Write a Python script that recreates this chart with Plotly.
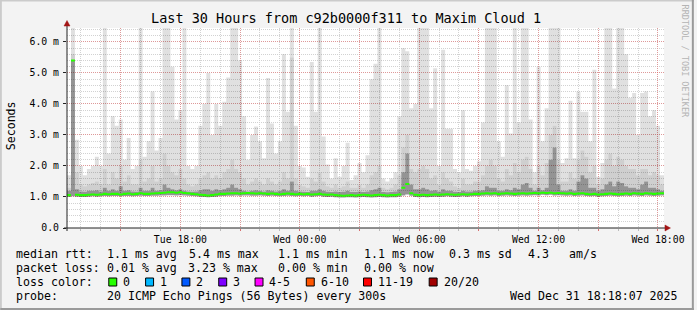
import pandas as pd
import plotly.graph_objects as go

# ---------------- data ----------------
# 150 bins of 12 minutes, Tue 12:18 -> Wed 18:18, values in milliseconds
smoke_max = [
    1.7, 6.6, 2.85, 2.0, 1.7, 1.9, 2.0, 2.3, 2.0, 6.6,
    2.4, 3.6, 3.3, 3.5, 2.2, 2.9, 1.9, 2.0, 6.6, 2.3,
    2.8, 4.4, 2.5, 2.9, 6.6, 6.6, 5.2, 3.5, 3.8, 6.6,
    2.0, 1.9, 2.0, 3.3, 4.0, 5.0, 3.0, 4.0, 3.3, 4.07,
    4.85, 6.6, 6.6, 5.4, 3.6, 2.2, 3.0, 3.27, 2.8, 2.25,
    4.84, 3.37, 2.4, 2.8, 5.6, 3.75, 6.6, 3.3, 2.0, 1.95,
    1.65, 5.35, 3.75, 6.6, 2.95, 2.05, 1.6, 2.25, 1.65, 2.0,
    2.75, 1.55, 1.7, 2.1, 1.8, 2.35, 4.8, 5.3, 6.6, 1.6,
    1.5, 1.6, 1.8, 3.6, 5.8, 5.7, 3.86, 4.0, 6.6, 6.6,
    6.6, 3.86, 5.15, 2.0, 5.75, 3.2, 3.2, 1.9, 1.8, 3.8,
    1.9, 1.85, 2.0, 2.15, 3.4, 6.6, 6.6, 6.6, 2.8, 2.3,
    4.6, 3.05, 6.6, 3.4, 6.6, 6.6, 3.5, 1.8, 5.2, 2.8,
    3.86, 6.6, 6.6, 6.6, 2.1, 2.25, 4.1, 2.25, 4.4, 3.75,
    3.75, 2.8, 5.1, 1.65, 2.1, 6.6, 6.6, 4.5, 6.6, 6.6,
    5.6, 4.2, 4.35, 3.0, 4.35, 4.4, 3.6, 3.8, 3.3, 1.7,
]
smoke_mid = [
    1.3, 5.6, 1.8, 1.4, 1.35, 1.4, 1.45, 1.5, 1.4, 1.9,
    1.4, 1.8, 1.6, 2.0, 1.5, 1.7, 1.4, 1.4, 2.2, 1.5,
    1.6, 2.0, 1.5, 1.6, 2.4, 2.0, 1.8, 1.7, 1.9, 1.6,
    1.4, 1.35, 1.4, 1.6, 1.7, 1.8, 1.6, 1.7, 1.6, 1.8,
    1.9, 2.2, 1.9, 1.8, 1.6, 1.4, 1.5, 1.6, 1.5, 1.4,
    1.6, 1.5, 1.4, 1.5, 1.8, 1.6, 5.5, 1.6, 1.4, 1.35,
    1.3, 1.6, 1.5, 1.8, 1.5, 1.35, 1.3, 1.4, 1.3, 1.35,
    1.5, 1.3, 1.3, 1.4, 1.3, 1.4, 1.7, 1.8, 2.0, 1.3,
    1.25, 1.3, 1.4, 1.7, 2.6, 3.0, 1.9, 1.8, 1.9, 2.0,
    1.9, 1.6, 1.7, 1.4, 1.8, 1.6, 1.5, 1.35, 1.3, 1.6,
    1.4, 1.4, 1.5, 1.5, 1.7, 2.0, 2.2, 2.0, 1.6, 1.5,
    1.9, 1.7, 2.1, 1.8, 2.2, 2.3, 1.9, 1.4, 2.0, 1.7,
    2.1, 3.0, 3.3, 2.2, 1.5, 1.5, 1.8, 1.6, 2.2, 2.5,
    2.3, 1.8, 2.0, 1.4, 1.6, 2.2, 2.4, 2.0, 2.3, 2.2,
    2.0, 1.9, 1.9, 1.7, 1.9, 1.9, 1.7, 1.8, 1.7, 1.4,
]
smoke_dark = [
    1.2, 5.4, 1.25, 1.18, 1.17, 1.2, 1.2, 1.22, 1.18, 1.3,
    1.2, 1.25, 1.2, 1.35, 1.2, 1.22, 1.18, 1.17, 1.3, 1.2,
    1.2, 1.3, 1.2, 1.22, 1.4, 1.3, 1.25, 1.22, 1.25, 1.2,
    1.18, 1.17, 1.18, 1.22, 1.25, 1.25, 1.2, 1.25, 1.22, 1.25,
    1.3, 1.4, 1.3, 1.25, 1.2, 1.18, 1.2, 1.22, 1.2, 1.18,
    1.22, 1.2, 1.18, 1.2, 1.25, 1.2, 1.5, 1.2, 1.18, 1.17,
    1.16, 1.2, 1.2, 1.25, 1.2, 1.17, 1.16, 1.18, 1.16, 1.17,
    1.2, 1.16, 1.16, 1.18, 1.16, 1.18, 1.22, 1.25, 1.3, 1.16,
    1.15, 1.16, 1.18, 1.25, 1.8, 2.4, 1.4, 1.25, 1.25, 1.3,
    1.25, 1.2, 1.22, 1.18, 1.25, 1.2, 1.2, 1.17, 1.16, 1.2,
    1.18, 1.18, 1.2, 1.2, 1.22, 1.35, 1.3, 1.3, 1.2, 1.2,
    1.25, 1.22, 1.3, 1.25, 1.4, 1.45, 1.3, 1.2, 1.3, 1.22,
    1.3, 2.2, 2.6, 1.4, 1.2, 1.2, 1.25, 1.2, 1.5, 1.7,
    1.6, 1.3, 1.3, 1.2, 1.25, 1.4, 1.5, 1.35, 1.5, 1.45,
    1.35, 1.3, 1.3, 1.25, 1.4, 1.5, 1.3, 1.3, 1.25, 1.2,
]
smoke_min = [
    1.0, 1.02, 1.01, 1.0, 1.0, 1.01, 1.02, 1.01, 1.02, 1.03,
    1.02, 1.03, 1.03, 1.02, 1.03, 1.03, 1.02, 1.03, 1.04, 1.03,
    1.03, 1.04, 1.04, 1.05, 1.05, 1.06, 1.06, 1.05, 1.06, 1.05,
    1.04, 1.03, 1.02, 1.01, 1.0, 0.99, 1.0, 1.01, 1.03, 1.03,
    1.04, 1.04, 1.05, 1.04, 1.05, 1.05, 1.04, 1.04, 1.05, 1.04,
    1.03, 1.04, 1.03, 1.02, 1.03, 1.04, 1.03, 1.02, 1.03, 1.02,
    1.03, 1.01, 1.02, 1.03, 1.01, 1.0, 1.01, 0.99, 0.98, 0.98,
    0.99, 0.99, 0.98, 0.99, 1.0, 0.99, 0.98, 0.99, 1.0, 0.99,
    0.98, 0.99, 0.99, 1.01, 1.05, 1.08, 1.04, 1.0, 0.99, 1.0,
    0.99, 1.0, 1.01, 1.0, 1.01, 1.02, 1.01, 1.0, 1.01, 1.02,
    1.01, 1.02, 1.03, 1.03, 1.04, 1.05, 1.04, 1.05, 1.03, 1.04,
    1.05, 1.04, 1.03, 1.04, 1.05, 1.04, 1.05, 1.06, 1.05, 1.07,
    1.06, 1.07, 1.05, 1.06, 1.05, 1.04, 1.05, 1.03, 1.04, 1.05,
    1.03, 1.02, 1.03, 1.01, 1.02, 1.03, 1.04, 1.03, 1.02, 1.03,
    1.04, 1.03, 1.05, 1.04, 1.03, 1.05, 1.04, 1.03, 1.04, 1.05,
]
median_rtt = [
    1.06, 5.4, 1.07, 1.06, 1.06, 1.07, 1.08, 1.07, 1.08, 1.1,
    1.09, 1.1, 1.1, 1.08, 1.1, 1.11, 1.09, 1.1, 1.12, 1.1,
    1.1, 1.11, 1.12, 1.13, 1.14, 1.15, 1.15, 1.14, 1.15, 1.13,
    1.12, 1.1, 1.09, 1.07, 1.06, 1.05, 1.06, 1.08, 1.1, 1.1,
    1.11, 1.12, 1.12, 1.11, 1.12, 1.13, 1.12, 1.11, 1.12, 1.11,
    1.1, 1.11, 1.1, 1.09, 1.1, 1.11, 1.1, 1.09, 1.1, 1.09,
    1.1, 1.08, 1.09, 1.1, 1.08, 1.07, 1.08, 1.06, 1.05, 1.04,
    1.05, 1.06, 1.05, 1.06, 1.07, 1.06, 1.05, 1.06, 1.07, 1.06,
    1.05, 1.06, 1.06, 1.08, 1.3, 1.42, 1.12, 1.07, 1.06, 1.07,
    1.06, 1.07, 1.08, 1.07, 1.08, 1.09, 1.08, 1.07, 1.08, 1.09,
    1.08, 1.09, 1.1, 1.1, 1.11, 1.12, 1.11, 1.12, 1.1, 1.11,
    1.12, 1.11, 1.1, 1.11, 1.12, 1.11, 1.12, 1.13, 1.12, 1.14,
    1.13, 1.14, 1.12, 1.13, 1.12, 1.11, 1.12, 1.1, 1.11, 1.12,
    1.1, 1.09, 1.1, 1.08, 1.09, 1.1, 1.11, 1.1, 1.09, 1.1,
    1.11, 1.1, 1.12, 1.11, 1.1, 1.12, 1.11, 1.1, 1.11, 1.12,
]

start_time = "2025-12-30 12:18:07"
end_time = "2025-12-31 18:18:07"
bin_minutes = 12

x_tickvals = ["2025-12-30 15:00", "2025-12-30 18:00", "2025-12-30 21:00",
              "2025-12-31 00:00", "2025-12-31 03:00", "2025-12-31 06:00",
              "2025-12-31 09:00", "2025-12-31 12:00", "2025-12-31 15:00",
              "2025-12-31 18:00"]
x_ticktext = ["", "Tue 18:00", "", "Wed 00:00", "", "Wed 06:00", "",
              "Wed 12:00", "", "Wed 18:00"]
y_tickvals = [0, 1, 2, 3, 4, 5, 6]
y_ticktext = ["0.0", "1.0 m", "2.0 m", "3.0 m", "4.0 m", "5.0 m", "6.0 m"]

stats_rtt = [("median rtt:", 16), ("1.1 ms avg", 107), ("5.4 ms max", 190),
             ("1.1 ms min", 279), ("1.1 ms now", 365), ("0.3 ms sd", 451),
             ("4.3", 530), ("am/s", 572)]
stats_loss = [("packet loss:", 16), ("0.01 % avg", 107), ("3.23 % max", 189),
              ("0.00 % min", 279), ("0.00 % now", 365)]
loss_labels = ["0", "1", "2", "3", "4-5", "6-10", "11-19", "20/20"]
loss_colors = ["#26ff00", "#00b8ff", "#0059ff", "#7e00ff", "#ff00ff",
               "#ff5500", "#ff0000", "#a10000"]
loss_swatch_x = [109, 146, 182.5, 219.5, 256, 307.5, 365, 431]
probe_text = "20 ICMP Echo Pings (56 Bytes) every 300s"
stamp_text = "Wed Dec 31 18:18:07 2025"
title_text = "Last 30 Hours from c92b0000f311 to Maxim Cloud 1"

# ---------------- geometry ----------------
W, H = 697, 310
L, R, T, B = 67, 667, 28, 228
FONT = "DejaVu Sans Mono"


def px(x):
    return (x - L) / (R - L)


def py(y):
    return (B - y) / (B - T)


t0 = pd.Timestamp(start_time)
edges = [t0 + pd.Timedelta(minutes=bin_minutes * i) for i in range(len(smoke_max) + 1)]


def st(a):
    return list(a) + [a[-1]]


fig = go.Figure()


def band(y, color):
    fig.add_trace(go.Scatter(
        x=edges, y=st(y), mode="lines",
        line=dict(width=0, shape="hv"),
        fill=None if color is None else "tonexty",
        fillcolor=color, hoverinfo="skip", showlegend=False))


band(smoke_min, None)
band(smoke_dark, "rgba(0,0,0,0.42)")
band(smoke_mid, "rgba(0,0,0,0.19)")
band(smoke_max, "rgba(0,0,0,0.12)")
# median drawn as a thin band (smokeping style)
band([m - 0.033 for m in median_rtt], None)
band([m + 0.033 for m in median_rtt], loss_colors[0])

ann = []


def note(**kw):
    kw.setdefault("xref", "paper")
    kw.setdefault("yref", "paper")
    kw.setdefault("showarrow", False)
    ann.append(kw)


note(x=px(347.5), y=py(18.5), text=title_text, xanchor="center", yanchor="middle",
     font=dict(family=FONT, size=13.5, color="#000"))
note(x=px(11), y=py(126), text="Seconds", textangle=-90, xanchor="center",
     yanchor="middle", font=dict(family=FONT, size=11.6, color="#000"))
note(x=px(688.5), y=py(61), text="RRDTOOL / TOBI OETIKER", textangle=90,
     xanchor="center", yanchor="middle",
     font=dict(family=FONT, size=8.5, color="#b4b4b4"))


def txt(s, x, y, anchor="left"):
    note(x=px(x), y=py(y), text=s, xanchor=anchor, yanchor="middle",
         borderpad=0, borderwidth=0,
         font=dict(family=FONT, size=11.6, color="#000"))


for s, x in stats_rtt:
    txt(s, x, 254)
for s, x in stats_loss:
    txt(s, x, 268)
txt("loss color:", 16, 282)
shapes = []
for lab, col, sx in zip(loss_labels, loss_colors, loss_swatch_x):
    shapes.append(dict(type="rect", xref="paper", yref="paper",
                       x0=px(sx), x1=px(sx + 8), y0=py(286), y1=py(278),
                       fillcolor=col, line=dict(color="#000", width=1)))
    txt(lab, sx + 14.5, 282)
txt("probe:", 16, 296)
txt(probe_text, 107, 296)
txt(stamp_text, 681, 296, anchor="right")

# axis arrows
arrow = "#a31515"
shapes.append(dict(type="line", xref="paper", yref="paper",
                   x0=px(67), x1=px(67), y0=py(231), y1=py(24),
                   line=dict(color="#222", width=1)))
shapes.append(dict(type="path", xref="paper", yref="paper",
                   path=f"M {px(64)} {py(26)} L {px(70)} {py(26)} L {px(67)} {py(20.5)} Z",
                   fillcolor=arrow, line=dict(color=arrow, width=0.5)))
shapes.append(dict(type="line", xref="paper", yref="paper",
                   x0=px(64), x1=px(670), y0=py(228), y1=py(228),
                   line=dict(color="#222", width=1)))
shapes.append(dict(type="path", xref="paper", yref="paper",
                   path=f"M {px(668)} {py(225)} L {px(668)} {py(231)} L {px(673.5)} {py(228)} Z",
                   fillcolor=arrow, line=dict(color=arrow, width=0.5)))
# 3D frame
for (x0, y0, x1, y1, c) in [(0, 0.5, W, 0.5, "#cbcbcb"), (0.5, 0, 0.5, H, "#cbcbcb"),
                            (0, H - 1, W, H - 1, "#9a9a9a"), (W - 1, 0, W - 1, H, "#9a9a9a")]:
    shapes.append(dict(type="line", xref="paper", yref="paper",
                       x0=px(x0), x1=px(x1), y0=py(y0), y1=py(y1),
                       line=dict(color=c, width=2)))

major_grid = "rgba(255,0,0,0.27)"
minor_grid = "#d2d2d2"
fig.update_layout(
    width=W, height=H,
    margin=dict(l=L, r=W - R, t=T, b=H - B, pad=0),
    paper_bgcolor="#f3f3f3", plot_bgcolor="#ffffff",
    showlegend=False,
    font=dict(family=FONT, size=9.8, color="#000"),
    annotations=ann, shapes=shapes,
    xaxis=dict(type="date", range=[start_time, end_time],
               tickmode="array", tickvals=x_tickvals, ticktext=x_ticktext,
               showgrid=True, gridcolor=major_grid, griddash="1px,1px", gridwidth=1,
               ticks="outside", ticklen=2, tickcolor="rgba(255,0,0,0.4)",
               showline=False, zeroline=False,
               tickfont=dict(family=FONT, size=9.8, color="#000"),
               minor=dict(dtick=3600000, tick0="2025-12-30 13:00", showgrid=True,
                          gridcolor=minor_grid, griddash="1px,1px", gridwidth=1,
                          ticks="outside", ticklen=2, tickcolor="#bbbbbb")),
    yaxis=dict(range=[0, 6.45], tickmode="array", tickvals=y_tickvals,
               ticktext=y_ticktext, showgrid=True, gridcolor=major_grid,
               griddash="1px,1px", gridwidth=1, ticks="outside", ticklen=3,
               tickcolor="#222", showline=False, zeroline=False,
               ticklabelstandoff=2,
               tickfont=dict(family=FONT, size=9.8, color="#000"),
               minor=dict(dtick=0.2, showgrid=True, gridcolor=minor_grid,
                          griddash="1px,1px", gridwidth=1)),
)

fig.write_html("out.html")
